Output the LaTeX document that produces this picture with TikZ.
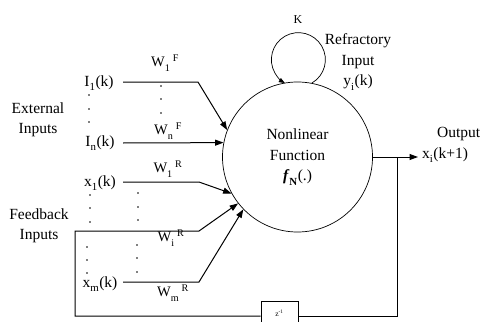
\documentclass[tikz,border=0pt]{standalone}
\usepackage{fontspec}
\setmainfont{Liberation Serif}
\usetikzlibrary{arrows.meta}
\newcommand{\sub}[1]{\raisebox{-0.35ex}{\textsubscript{#1}}}
\newcommand{\sps}[1]{\textsuperscript{#1}}
\begin{document}
\begin{tikzpicture}[x=1pt,y=-1pt,
  lbl/.style={inner sep=0pt, font=\fontsize{15.5}{20.5}\selectfont, align=center},
  wlbl/.style={inner sep=0pt, font=\fontsize{14.5}{17}\selectfont},
  wire/.style={line width=1pt},
  arr/.style={wire,-{Triangle[length=8.5pt,width=6pt]}},
  thin/.style={line width=0.7pt},
  dotc/.style={circle,fill,inner sep=0pt,minimum size=1.8pt}]
\clip (0,0) rectangle (484,321);
% main circle
\node[circle,draw,thin,minimum size=150pt,inner sep=0pt,lbl,font=\fontsize{15.5}{20.5}\selectfont] (nl) at (297.5,157)
  {Nonlinear\\Function\\\textbf{\textit{f}}\sub{\textbf{N}}(.)};
% refractory loop
\coordinate (ls) at (nl.79);
\draw[thin,-{Triangle[length=6pt,width=4.5pt]}] (ls) arc[start angle=60,end angle=-240,radius=27];
\node[inner sep=0pt,font=\fontsize{12}{14}\selectfont] (K) at (298,20) {K};
\node[lbl] (refr) at (358,62) {Refractory\\Input\\y\sub{i}(k)};
% external inputs
\node[lbl] (ext) at (38,120) {External\\Inputs};
\node[lbl] (I1) at (99,83) {I\sub{1}(k)};
\node[lbl] (In) at (100,143) {I\sub{n}(k)};
\coordinate (I1s) at (123,82);
\coordinate (I1b) at (198,82);
\coordinate (Ins) at (123,143);
\coordinate (tipF1) at (nl.159);
\coordinate (tipFn) at (nl.169);
\draw[arr] (I1s) -- (I1b) -- (tipF1);
\draw[arr] (Ins) -- (tipFn);
\node[wlbl] (WF1) at (165,63) {W\sub{1}\,\sps{F}};
\node[wlbl] (WFn) at (168,131) {W\sub{n}\,\sps{F}};
\foreach \y in {86,99,113} \node[dotc] at (161,\y) {};
\foreach \y in {95,109,122} \node[dotc] at (89,\y) {};
% feedback inputs
\node[lbl] (fbk) at (39,226) {Feedback\\Inputs};
\node[lbl] (x1) at (100,183) {x\sub{1}(k)};
\node[lbl] (xm) at (100,284) {x\sub{m}(k)};
\coordinate (x1s) at (123,182);
\coordinate (x1b) at (199,182);
\coordinate (xms) at (123,282);
\coordinate (xmb) at (199,282);
\coordinate (fbc) at (75,231);
\coordinate (fbb) at (199,231);
\coordinate (tipR1) at (nl.209);
\coordinate (tipRi) at (nl.218);
\coordinate (tipRm) at (nl.224);
\draw[arr] (x1s) -- (x1b) -- (tipR1);
\draw[arr] (xms) -- (xmb) -- (tipRm);
\node[wlbl] (WR1) at (168,169) {W\sub{1}\,\sps{R}};
\node[wlbl] (WRi) at (171,238) {W\sub{i}\,\sps{R}};
\node[wlbl] (WRm) at (173,293) {W\sub{m}\,\sps{R}};
\foreach \y in {195,208,222} \node[dotc] at (90,\y) {};
\foreach \y in {193,207,220} \node[dotc] at (138,\y) {};
\foreach \y in {247,260,273} \node[dotc] at (87,\y) {};
\foreach \y in {245,258,272} \node[dotc] at (137,\y) {};
% output
\coordinate (oj) at (397,157);
\coordinate (otip) at (418,157);
\draw[wire] (nl.east) -- (oj);
\draw[arr] (oj) -- (otip);
\node[lbl,anchor=west] (outl) at (437,134) {Output};
\node[lbl,anchor=west] (outx) at (422,155) {x\sub{i}(k+1)};
% delay box and feedback
\node[draw,thin,minimum width=37pt,minimum height=30pt,inner sep=0pt,anchor=north] (z) at (279.5,301) {};
\node[inner sep=0pt,font=\fontsize{7.5}{9}\selectfont] (zt) at (279.5,313) {z\sps{-1}};
\coordinate (zr) at (z.east |- 0,316);
\coordinate (zl) at (z.west |- 0,316);
\draw[wire] (oj) |- (zr);
\draw[arr] (zl) -| (fbc) -- (fbb) -- (tipRi);
\end{tikzpicture}
\end{document}
